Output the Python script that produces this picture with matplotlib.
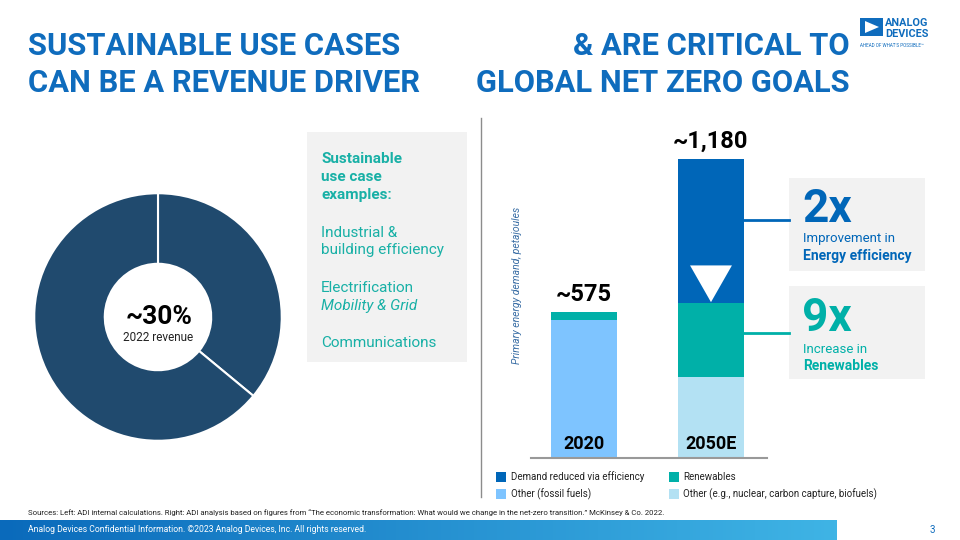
import matplotlib
matplotlib.use("Agg")
import matplotlib.pyplot as plt
import numpy as np
from matplotlib.patches import Rectangle, Polygon
from matplotlib.colors import LinearSegmentedColormap

plt.rcParams['font.family'] = ['Roboto', 'DejaVu Sans']

# ---------------- data ----------------
donut_labels = ['Sustainable use cases', 'Other']
donut_values = [36, 64]

years = ['2020', '2050E']
fossil = [543, 0]
other = [0, 320]
renewables = [32, 290]
efficiency = [0, 570]
totals_lbl = ['~575', '~1,180']

legend_labels = ['Demand reduced via efficiency', 'Renewables',
                 'Other (fossil fuels)', 'Other (e.g., nuclear, carbon capture, biofuels)']

BLUE = '#0F6CBD'
DARK = '#0066B8'
TEAL = '#00B0A8'
FOSSIL = '#7EC4FF'
OTHER = '#B3E1F3'
NAVY = '#204A6E'
TXT_TEAL = '#18B0A6'

W, H = 960, 540
fig = plt.figure(figsize=(9.6, 5.4), dpi=100)

def T(x, y, s, **kw):
    return fig.text(x / W, 1 - y / H, s, **kw)

# background drawing axes (pixel coords)
bg = fig.add_axes([0, 0, 1, 1], zorder=-1)
bg.axis('off')

# grey boxes
bg.add_patch(Rectangle((307, 132), 160, 230, color='#F2F2F2', lw=0))
bg.add_patch(Rectangle((789, 178), 136, 93, color='#F2F2F2', lw=0))
bg.add_patch(Rectangle((789, 286), 136, 93, color='#F2F2F2', lw=0))
# separator
bg.plot([481, 481], [118, 497], color='#8C8C8C', lw=1)
# connectors
bg.plot([744, 789], [220, 220], color=DARK, lw=2)
bg.plot([744, 789], [333, 333], color=TEAL, lw=2)
# footer gradient
grad = np.linspace(0, 1, 256).reshape(1, -1)
cm = LinearSegmentedColormap.from_list('g', ['#0A6ABB', '#3FB4E5'])
bg.imshow(grad, cmap=cm, extent=(0, 837, 540, 520), aspect='auto')
# logo
bg.add_patch(Rectangle((860, 18), 23, 18, color=BLUE, lw=0))
bg.add_patch(Polygon([[865, 21], [865, 33], [879, 27]], closed=True, color='white', lw=0))
# legend squares
for (x, y), c in zip([(496, 472), (669, 472), (496, 489), (669, 489)], [DARK, TEAL, FOSSIL, OTHER]):
    bg.add_patch(Rectangle((x, y), 10, 10, color=c, lw=0))
bg.set_xlim(0, W)
bg.set_ylim(H, 0)

# ---------------- donut ----------------
ax1 = fig.add_axes([33 / W, (H - 442) / H, 250 / W, 250 / H])
ax1.pie(donut_values, colors=[NAVY, NAVY], startangle=90, counterclock=False,
        radius=1.0, wedgeprops=dict(width=0.57, edgecolor='white', linewidth=1.5))
ax1.set_xlim(-1.01, 1.01)
ax1.set_ylim(-1.01, 1.01)
ax1.set_aspect('equal')

# ---------------- bars ----------------
ax2 = fig.add_axes([531 / W, (H - 458) / H, 236 / W, 318 / H])
ax2.patch.set_alpha(0)
x = np.arange(len(years))
bw = 0.52
b = np.zeros(len(years))
for vals, c in [(fossil, FOSSIL), (other, OTHER), (renewables, TEAL), (efficiency, DARK)]:
    ax2.bar(x, vals, bw, bottom=b, color=c, lw=0)
    b = b + np.array(vals)
ax2.set_xlim(-0.417, 1.441)
ax2.set_ylim(0, 1180 * 318 / 299)
for s in ['top', 'right', 'left']:
    ax2.spines[s].set_visible(False)
ax2.spines['bottom'].set_color('#999999')
ax2.spines['bottom'].set_linewidth(1.5)
ax2.set_xticks([])
ax2.set_yticks([])
for i in range(len(years)):
    ax2.text(x[i], b[i] + 25, totals_lbl[i], ha='center', va='bottom',
             fontsize=17, fontweight='bold', color='black')
    ax2.text(x[i], 20, years[i], ha='center', va='bottom',
             fontsize=13, fontweight='bold', color='black')
# white arrow triangle in efficiency segment
base = other[1] + renewables[1] + fossil[1]
ax2.add_patch(Polygon([[1 - 0.165, base + 150], [1 + 0.165, base + 150], [1, base + 5]],
                      closed=True, color='white', lw=0))

T(517, 285, 'Primary energy demand, petajoules', rotation=90, ha='center', va='center',
  fontsize=7.5, style='italic', color='#3A6EA5')

# ---------------- titles ----------------
TS = 22.2
T(28, 55, 'SUSTAINABLE USE CASES', fontsize=TS, fontweight='bold', color=BLUE, va='baseline')
T(28, 92, 'CAN BE A REVENUE DRIVER', fontsize=TS, fontweight='bold', color=BLUE, va='baseline')
T(850, 55, '& ARE CRITICAL TO', fontsize=TS, fontweight='bold', color=BLUE, va='baseline', ha='right')
T(850, 92, 'GLOBAL NET ZERO GOALS', fontsize=TS, fontweight='bold', color=BLUE, va='baseline', ha='right')

# donut center text
T(159, 324, '~30%', fontsize=19, fontweight='bold', color='black', ha='center', va='baseline')
T(158, 341, '2022 revenue', fontsize=8.5, color='#222222', ha='center', va='baseline')

# left text box
for s, yy in [('Sustainable', 163), ('use case', 181), ('examples:', 199)]:
    T(321, yy, s, fontsize=11, fontweight='bold', color=TXT_TEAL, va='baseline')
for s, yy, st in [('Industrial &', 237, 'normal'), ('building efficiency', 254, 'normal'),
                  ('Electrification', 292, 'normal'), ('Mobility & Grid', 310, 'italic'),
                  ('Communications', 347, 'normal')]:
    T(321, yy, s, fontsize=11, color=TXT_TEAL, va='baseline', style=st)

# right boxes
T(802, 222, '2x', fontsize=33, fontweight='bold', color=DARK, va='baseline')
T(803, 242, 'Improvement in', fontsize=9.5, color=DARK, va='baseline')
T(803, 260, 'Energy efficiency', fontsize=10, fontweight='bold', color=DARK, va='baseline')
T(802, 331, '9x', fontsize=33, fontweight='bold', color=TEAL, va='baseline')
T(803, 353, 'Increase in', fontsize=9.5, color=TEAL, va='baseline')
T(803, 370, 'Renewables', fontsize=10, fontweight='bold', color=TEAL, va='baseline')

# legend text
for (xx, yy), s in zip([(511, 477), (683, 477), (511, 494), (683, 494)], legend_labels):
    T(xx, yy, s, fontsize=7, color='#222222', va='center')

# footer
T(28, 513, 'Sources: Left: ADI internal calculations. Right: ADI analysis based on figures from \u201cThe economic transformation: What would we change in the net-zero transition.\u201d McKinsey & Co. 2022.',
  fontsize=5.6, color='#222222', va='center')
T(28, 530, 'Analog Devices Confidential Information. \u00a92023 Analog Devices, Inc. All rights reserved.',
  fontsize=6.2, color='white', va='center')
T(930, 530, '3', fontsize=7, color=BLUE, va='center')

# logo text
T(885, 26, 'ANALOG', fontsize=7.8, fontweight='bold', color=BLUE, va='baseline')
T(885, 37, 'DEVICES', fontsize=7.8, fontweight='bold', color=BLUE, va='baseline')
T(860, 47, 'AHEAD OF WHAT\u2019S POSSIBLE\u2122', fontsize=3.3, color=BLUE, va='baseline')

fig.savefig('out.png', dpi=100)
